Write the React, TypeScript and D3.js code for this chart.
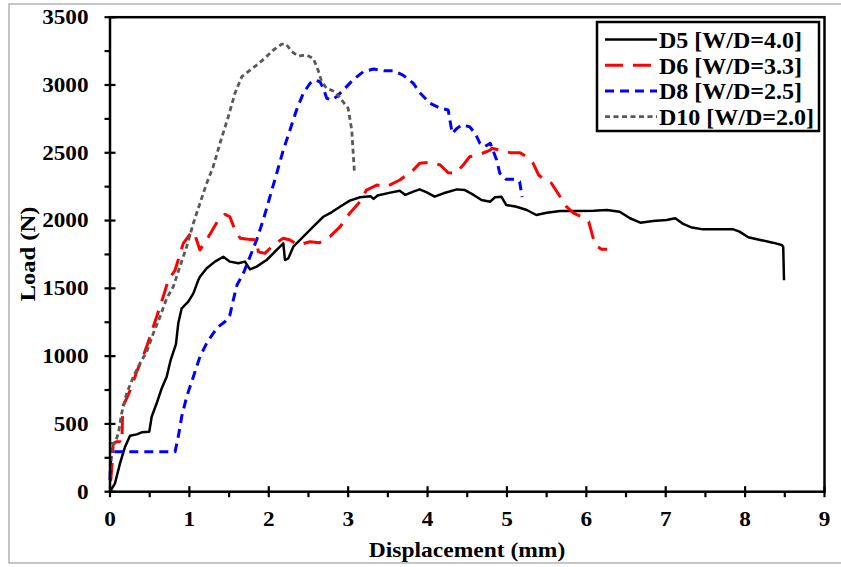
import React from "react";
import * as d3 from "d3";

const xTicks = [0, 1, 2, 3, 4, 5, 6, 7, 8, 9];
const yTicks = [0, 500, 1000, 1500, 2000, 2500, 3000, 3500];
const xTitle = "Displacement (mm)";
const yTitle = "Load (N)";

const seriesNames = ["D5 [W/D=4.0]", "D6 [W/D=3.3]", "D8 [W/D=2.5]", "D10 [W/D=2.0]"];

const d5X = [0, 0.063, 0.126, 0.19, 0.252, 0.336, 0.4, 0.495, 0.525, 0.588, 0.651, 0.714, 0.764, 0.831, 0.86, 0.903, 0.986, 1.05, 1.112, 1.133, 1.218, 1.322, 1.427, 1.511, 1.616, 1.7, 1.763, 1.847, 1.973, 2.1, 2.183, 2.204, 2.246, 2.309, 2.435, 2.56, 2.687, 2.79, 2.897, 3.02, 3.15, 3.28, 3.32, 3.37, 3.53, 3.65, 3.72, 3.82, 3.9, 3.99, 4.09, 4.2, 4.37, 4.47, 4.58, 4.68, 4.79, 4.85, 4.93, 4.99, 5.12, 5.25, 5.37, 5.5, 5.67, 5.88, 6.09, 6.26, 6.42, 6.55, 6.68, 6.84, 7.01, 7.12, 7.22, 7.33, 7.47, 7.68, 7.85, 7.93, 8.04, 8.19, 8.35, 8.46, 8.48, 8.49];
const d5Y = [0, 62, 209, 332, 413, 423, 438, 443, 553, 652, 762, 848, 971, 1089, 1242, 1353, 1402, 1463, 1561, 1586, 1648, 1697, 1733, 1697, 1685, 1697, 1640, 1660, 1709, 1783, 1832, 1709, 1721, 1807, 1881, 1955, 2028, 2061, 2102, 2147, 2172, 2180, 2160, 2185, 2206, 2220, 2189, 2213, 2230, 2208, 2176, 2201, 2230, 2225, 2189, 2152, 2139, 2172, 2176, 2115, 2102, 2078, 2041, 2058, 2070, 2070, 2073, 2078, 2065, 2017, 1984, 1997, 2004, 2017, 1975, 1948, 1935, 1935, 1935, 1918, 1877, 1857, 1837, 1820, 1807, 1560];

const d6X = [0.005, 0.01, 0.03, 0.04, 0.084, 0.13, 0.15, 0.16, 0.21, 0.273, 0.336, 0.4, 0.462, 0.525, 0.588, 0.67, 0.735, 0.82, 0.923, 1.03, 1.06, 1.133, 1.24, 1.364, 1.448, 1.51, 1.574, 1.64, 1.74, 1.847, 1.868, 1.95, 2.058, 2.183, 2.267, 2.37, 2.52, 2.64, 2.77, 2.9, 3.02, 3.15, 3.23, 3.36, 3.48, 3.65, 3.82, 3.9, 4.03, 4.16, 4.26, 4.35, 4.45, 4.53, 4.64, 4.79, 4.81, 4.91, 5.04, 5.16, 5.25, 5.33, 5.4, 5.48, 5.56, 5.67, 5.75, 5.84, 5.94, 6.03, 6.07, 6.11, 6.19, 6.26];
const d6Y = [80, 86, 234, 357, 369, 369, 360, 627, 689, 775, 885, 971, 1070, 1180, 1291, 1438, 1561, 1635, 1832, 1918, 1910, 1783, 1881, 2004, 2046, 2028, 1930, 1869, 1862, 1857, 1770, 1758, 1820, 1869, 1857, 1820, 1844, 1837, 1881, 1955, 2054, 2139, 2225, 2262, 2250, 2299, 2373, 2422, 2430, 2410, 2353, 2348, 2410, 2471, 2484, 2520, 2533, 2520, 2501, 2501, 2471, 2422, 2336, 2299, 2275, 2176, 2102, 2054, 2028, 1992, 1906, 1820, 1788, 1788];

const d8X = [0, 0.005, 0.02, 0.05, 0.82, 0.86, 0.903, 0.966, 1.05, 1.133, 1.218, 1.3, 1.364, 1.448, 1.51, 1.553, 1.6, 1.68, 1.763, 1.847, 1.93, 2.015, 2.1, 2.183, 2.267, 2.35, 2.435, 2.52, 2.58, 2.645, 2.687, 2.73, 2.79, 2.855, 2.94, 3.06, 3.19, 3.32, 3.45, 3.57, 3.69, 3.82, 3.9, 4.03, 4.16, 4.26, 4.31, 4.37, 4.43, 4.53, 4.6, 4.66, 4.72, 4.79, 4.87, 4.91, 4.99, 5.1, 5.16, 5.18, 5.19];
const d8Y = [86, 200, 283, 295, 295, 406, 553, 701, 848, 996, 1095, 1168, 1217, 1254, 1303, 1414, 1525, 1611, 1733, 1857, 2004, 2176, 2349, 2520, 2668, 2816, 2939, 3013, 3037, 3024, 2975, 2902, 2889, 2914, 2963, 3037, 3098, 3118, 3105, 3105, 3073, 3013, 2945, 2865, 2828, 2816, 2643, 2680, 2705, 2692, 2643, 2570, 2545, 2570, 2447, 2349, 2304, 2304, 2287, 2213, 2173];

const d10X = [0.005, 0.01, 0.02, 0.063, 0.105, 0.147, 0.21, 0.294, 0.378, 0.462, 0.546, 0.63, 0.714, 0.797, 0.88, 0.966, 1.05, 1.133, 1.218, 1.3, 1.385, 1.49, 1.574, 1.66, 1.74, 1.847, 1.95, 2.058, 2.162, 2.217, 2.29, 2.37, 2.477, 2.56, 2.62, 2.667, 2.73, 2.834, 2.918, 3.0, 3.045, 3.066, 3.08];
const d10Y = [100, 234, 357, 357, 430, 578, 726, 848, 947, 1033, 1168, 1291, 1426, 1512, 1660, 1807, 1980, 2127, 2275, 2397, 2570, 2766, 2939, 3061, 3098, 3147, 3197, 3258, 3302, 3302, 3246, 3214, 3221, 3197, 3111, 3024, 2975, 2951, 2889, 2828, 2668, 2471, 2349];

const seriesX = [d5X, d6X, d8X, d10X];
const seriesY = [d5Y, d6Y, d8Y, d10Y];

const styles = [
  { color: "#000000", width: 2.5, dash: "" },
  { color: "#FF0000", width: 3, dash: "18,10" },
  { color: "#0000FF", width: 3, dash: "9,6" },
  { color: "#595959", width: 2.8, dash: "5,3.5" },
];

const FONT = "'Liberation Serif', 'Times New Roman', serif";

export default function App() {
  const W = 841, H = 567;
  const x = d3.scaleLinear().domain([0, 9]).range([110, 824.5]);
  const y = d3.scaleLinear().domain([0, 3500]).range([491.7, 17.2]);
  const line = d3.line<[number, number]>().x((d) => x(d[0])).y((d) => y(d[1]));

  const xMinor = d3.range(0.5, 9, 1);
  const yMinor = d3.range(250, 3500, 500);
  const [x0, x1] = x.range();
  const [y0, y1] = y.range();

  const legX = 597, legY = 22, legW = 222, legH = 109;
  const rowH = 25.7;

  return (
    <svg width={W} height={H} style={{ position: "absolute", left: 0, top: 0, background: "#fff" }} fontFamily={FONT} fontWeight="bold">
      <rect x={9} y={4} width={840} height={559} fill="#fff" stroke="#a0a0a0" strokeWidth={1.2} />
      {seriesX.map((xs, i) => (
        <path
          key={i}
          d={line(xs.map((v, j) => [v, seriesY[i][j]] as [number, number])) || ""}
          fill="none"
          stroke={styles[i].color}
          strokeWidth={styles[i].width}
          strokeDasharray={styles[i].dash || undefined}
          strokeLinejoin="round"
        />
      ))}
      <rect x={x0} y={y1} width={x1 - x0} height={y0 - y1} fill="none" stroke="#000" strokeWidth={2.5} />
      {xTicks.map((t) => (
        <g key={"xt" + t}>
          <line x1={x(t)} x2={x(t)} y1={y0 - 5.5} y2={y0 + 5.5} stroke="#000" strokeWidth={2.2} />
          <text transform={`translate(${x(t)},${525.5}) scale(1.16,1)`} textAnchor="middle" fontSize={20}>{t}</text>
        </g>
      ))}
      {xMinor.map((t) => (
        <line key={"xm" + t} x1={x(t)} x2={x(t)} y1={y0} y2={y0 + 5.5} stroke="#000" strokeWidth={2.2} />
      ))}
      {yTicks.map((t) => (
        <g key={"yt" + t}>
          <line x1={x0 - 5.5} x2={x0 + 5.5} y1={y(t)} y2={y(t)} stroke="#000" strokeWidth={2.2} />
          <text transform={`translate(${88.5},${y(t) + 6.8}) scale(1.16,1)`} textAnchor="end" fontSize={20}>{t}</text>
        </g>
      ))}
      {yMinor.map((t) => (
        <line key={"ym" + t} x1={x0 - 5.5} x2={x0} y1={y(t)} y2={y(t)} stroke="#000" strokeWidth={2.2} />
      ))}
      <text transform={`translate(${467},${556.5}) scale(1.12,1)`} textAnchor="middle" fontSize={21}>{xTitle}</text>
      <text transform={`translate(${35},${254}) rotate(-90) scale(1.12,1)`} textAnchor="middle" fontSize={22}>{yTitle}</text>
      <rect x={legX} y={legY} width={legW} height={legH} fill="#fff" stroke="#000" strokeWidth={2.5} />
      {seriesNames.map((n, i) => {
        const cy = legY + 17.5 + i * rowH;
        return (
          <g key={n}>
            <line x1={605} x2={657} y1={cy} y2={cy} stroke={styles[i].color} strokeWidth={styles[i].width} strokeDasharray={styles[i].dash || undefined} />
            <text x={659} y={cy + 8.5} fontSize={24}>{n}</text>
          </g>
        );
      })}
    </svg>
  );
}
